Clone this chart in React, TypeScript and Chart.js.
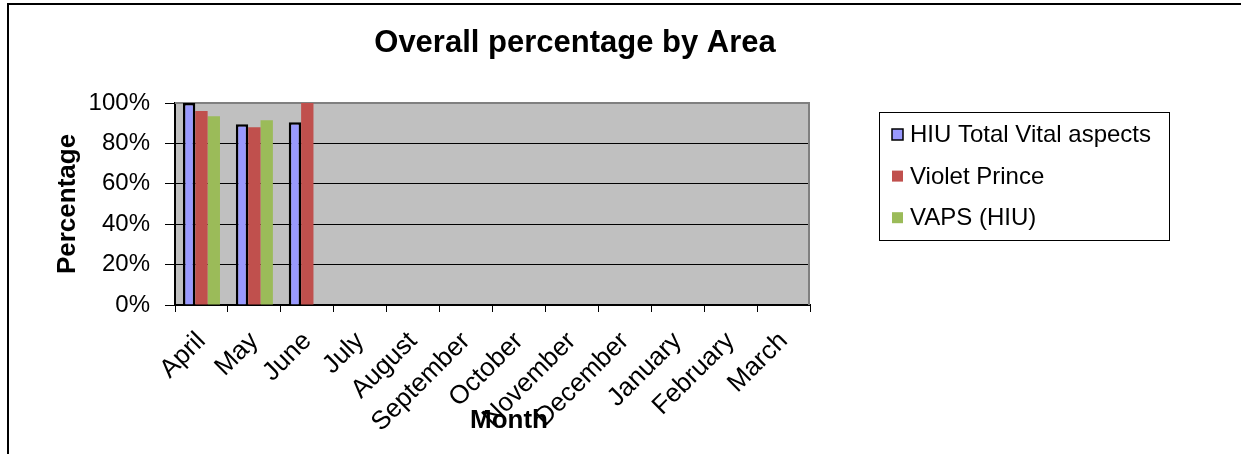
import { useEffect, useRef } from 'react';
import { Chart, registerables } from 'chart.js';

Chart.register(...registerables);

const months = ['April', 'May', 'June', 'July', 'August', 'September', 'October', 'November', 'December', 'January', 'February', 'March'];
const hiuTotalVital = [100, 89.5, 90.5, null, null, null, null, null, null, null, null, null];
const violetPrince = [96, 88, 100, null, null, null, null, null, null, null, null, null];
const vapsHiu = [93.5, 91.5, null, null, null, null, null, null, null, null, null, null];
const seriesNames = ['HIU Total Vital aspects', 'Violet Prince', 'VAPS (HIU)'];
const seriesColors = ['#9999FF', '#C0504D', '#9BBB59'];
const yTickValues = [0, 20, 40, 60, 80, 100];
const chartTitle = 'Overall percentage by Area';
const xTitle = 'Month';
const yTitle = 'Percentage';

const FONT = "'Liberation Sans', Arial, sans-serif";

const decor = {
  id: 'decor',
  beforeDraw(chart: any) {
    const { ctx, chartArea: a } = chart;
    ctx.save();
    ctx.fillStyle = '#ffffff';
    ctx.fillRect(0, 0, chart.width, chart.height);
    ctx.fillStyle = '#000000';
    ctx.fillRect(7, 3, chart.width - 7, 2);
    ctx.fillRect(7, 3, 2, chart.height - 3);
    ctx.fillStyle = '#C0C0C0';
    ctx.fillRect(a.left, a.top, a.right - a.left, a.bottom - a.top);
    ctx.restore();
  },
  beforeDatasetsDraw(chart: any) {
    const { ctx, chartArea: a } = chart;
    ctx.save();
    ctx.strokeStyle = '#808080';
    ctx.lineWidth = 2;
    ctx.beginPath();
    ctx.moveTo(a.left, a.top);
    ctx.lineTo(a.right - 1, a.top);
    ctx.lineTo(a.right - 1, a.bottom);
    ctx.stroke();
    ctx.restore();
  },
  afterDraw(chart: any) {
    const { ctx } = chart;
    ctx.save();
    ctx.fillStyle = '#000';
    ctx.textAlign = 'center';
    ctx.textBaseline = 'alphabetic';
    ctx.font = `bold 31px ${FONT}`;
    ctx.fillText(chartTitle, 575, 52);
    ctx.font = `bold 26px ${FONT}`;
    ctx.fillText(xTitle, 509, 428);

    // legend
    ctx.fillStyle = '#fff';
    ctx.fillRect(879.5, 112.5, 290, 128);
    ctx.strokeStyle = '#000';
    ctx.lineWidth = 1;
    ctx.strokeRect(879.5, 112.5, 290, 128);
    ctx.textAlign = 'left';
    ctx.font = `24px ${FONT}`;
    chart.data.datasets.forEach((ds: any, i: number) => {
      const by = 142 + i * 41.6;
      ctx.fillStyle = ds.backgroundColor;
      ctx.fillRect(892, by - 13, 11, 11);
      if (ds.borderWidth) {
        ctx.strokeStyle = '#000';
        ctx.lineWidth = 1.5;
        ctx.strokeRect(892, by - 13, 11, 11);
      }
      ctx.fillStyle = '#000';
      ctx.fillText(ds.label, 910, by);
    });
    ctx.restore();
  },
};

export default function App() {
  const ref = useRef<HTMLCanvasElement>(null);
  useEffect(() => {
    if (!ref.current) return;
    Chart.defaults.font.family = FONT;
    Chart.defaults.color = '#000';
    const chart = new Chart(ref.current, {
      type: 'bar',
      data: {
        labels: months,
        datasets: [
          { label: seriesNames[0], data: hiuTotalVital, backgroundColor: seriesColors[0], borderColor: '#000', borderWidth: 2.5 },
          { label: seriesNames[1], data: violetPrince, backgroundColor: seriesColors[1], borderWidth: 0 },
          { label: seriesNames[2], data: vapsHiu, backgroundColor: seriesColors[2], borderWidth: 0 },
        ] as any,
      },
      options: {
        animation: false,
        responsive: false,
        devicePixelRatio: 1,
        layout: { padding: { left: 0, top: 103, right: 431, bottom: 0 } },
        datasets: { bar: { categoryPercentage: 0.7, barPercentage: 1.0 } },
        plugins: { legend: { display: false }, title: { display: false }, tooltip: { enabled: false } },
        scales: {
          x: {
            grid: { offset: true, drawOnChartArea: false, drawTicks: true, tickLength: 7, color: '#000', lineWidth: 1 },
            border: { display: true, color: '#000', width: 2 },
            ticks: { autoSkip: false, minRotation: 45, maxRotation: 45, padding: 14, font: { size: 26 }, color: '#000' },
            afterFit: (s: any) => { s.height = 149; },
          },
          y: {
            min: 0,
            max: 100,
            afterBuildTicks: (s: any) => { s.ticks = yTickValues.map((v) => ({ value: v })); },
            ticks: { padding: 15, font: { size: 24 }, color: '#000', callback: (v: any) => `${v}%` },
            grid: { color: '#000', lineWidth: 1, tickLength: 10 },
            border: { color: '#000', width: 2 },
            title: { display: true, text: yTitle, font: { size: 26, weight: 'bold' }, padding: { top: 52, bottom: 0 }, color: '#000' },
            afterFit: (s: any) => { s.width = 175; },
          },
        },
      } as any,
      plugins: [decor],
    });
    return () => chart.destroy();
  }, []);
  return (
    <div style={{ position: 'absolute', left: 0, top: 0, width: 1241, height: 454 }}>
      <canvas ref={ref} width={1241} height={454} style={{ display: 'block' }} />
    </div>
  );
}
